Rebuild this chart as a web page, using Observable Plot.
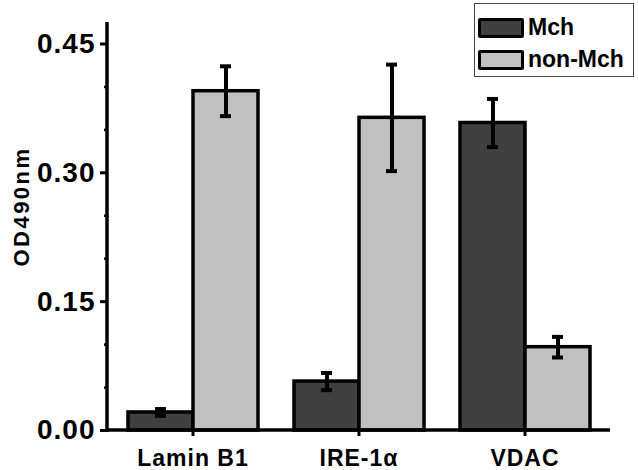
<!DOCTYPE html>
<html><head><meta charset="utf-8">
<script src="https://cdn.jsdelivr.net/npm/d3@7"></script>
<script src="https://cdn.jsdelivr.net/npm/@observablehq/plot@0.6"></script>
<style>
body{margin:0;background:#fff;}
#wrap{position:relative;width:638px;height:470px;font-family:"Liberation Sans",Arial,sans-serif;}
#legend{position:absolute;left:474px;top:3px;width:160px;height:74px;border:1px solid #444;box-sizing:border-box;background:#fff;}
.item{position:absolute;left:3px;display:flex;align-items:center;font-weight:bold;font-size:23px;line-height:1;color:#000;}
.sw{width:40px;height:14px;border:3px solid #000;margin-right:4px;border-radius:2px;}
</style></head><body>
<div id="wrap"><div id="chart"></div><div id="legend"></div></div>
<script>
const categories = ["Lamin B1", "IRE-1α", "VDAC"];
const series = ["Mch", "non-Mch"];
const mchValues = [0.021, 0.057, 0.358];
const mchErrors = [0.004, 0.010, 0.028];
const nonMchValues = [0.395, 0.364, 0.097];
const nonMchErrors = [0.029, 0.062, 0.012];
const seriesColors = ["#404040", "#c0c0c0"];
const yMajorTicks = [0, 0.15, 0.30, 0.45];
const yMinorTicks = [0.05, 0.10, 0.20, 0.25, 0.35, 0.40];
const yLabel = "OD490nm";

const data = categories.flatMap((c, i) => [
  {category: c, series: series[0], value: mchValues[i], err: mchErrors[i]},
  {category: c, series: series[1], value: nonMchValues[i], err: nonMchErrors[i]}
]);

const chart = Plot.plot({
  width: 638, height: 470,
  marginLeft: 107, marginRight: 28, marginTop: 22, marginBottom: 40,
  style: {fontFamily: "Liberation Sans, Arial, sans-serif", background: "white", color: "black"},
  fx: {domain: categories, paddingInner: 0.21, paddingOuter: 0.114, axis: null, label: null},
  x: {domain: series, padding: 0, axis: null},
  y: {domain: [0, 0.475], axis: null},
  color: {domain: series, range: seriesColors},
  marks: [
    Plot.barY(data, {fx: "category", x: "series", y: "value", fill: "series", stroke: "black", strokeWidth: 3.5}),
    Plot.ruleX(data, {fx: "category", x: "series", y1: d => d.value - d.err, y2: d => d.value + d.err, stroke: "black", strokeWidth: 4}),
    Plot.tickY(data, {fx: "category", x: "series", y: d => d.value + d.err, stroke: "black", strokeWidth: 4, insetLeft: 27, insetRight: 27}),
    Plot.tickY(data, {fx: "category", x: "series", y: d => d.value - d.err, stroke: "black", strokeWidth: 4, insetLeft: 27, insetRight: 27}),
    Plot.axisY({ticks: yMajorTicks, tickFormat: d3.format(".2f"), tickSize: 7, tickPadding: 5, strokeWidth: 3, fontSize: 28, fontWeight: "bold", label: null}),
    Plot.axisY({ticks: yMinorTicks, tickFormat: () => "", tickSize: 3, strokeWidth: 2.5, label: null}),
    Plot.axisY({ticks: [], label: yLabel, labelAnchor: "center", labelOffset: 94, labelArrow: "none", fontSize: 22, fontWeight: "bold"}),
    Plot.axisFx({anchor: "bottom", tickSize: 6, tickPadding: 13, strokeWidth: 3, fontSize: 23, fontWeight: "bold", label: null})
  ]
});

document.getElementById("chart").appendChild(chart);

const svg = d3.select(chart);
const fxS = chart.scale("fx"), yS = chart.scale("y");
const xa = Math.min(...fxS.range), xb = Math.max(...fxS.range);
const yBase = yS.apply(0), yTop = Math.min(...yS.range);

// move the y axis from the first facet's edge to the frame's left edge
const shift = xa - fxS.apply(categories[0]);
svg.selectAll("g[aria-label]").filter(function() {
  return this.getAttribute("aria-label").startsWith("y-axis");
}).each(function() {
  const t = this.getAttribute("transform") || "";
  this.setAttribute("transform", `translate(${shift},0) ${t}`);
});

// axis lines spanning the whole frame, from the library's scales
svg.append("line").attr("x1", xa).attr("x2", xb).attr("y1", yBase).attr("y2", yBase)
  .attr("stroke", "black").attr("stroke-width", 3.5);
svg.append("line").attr("x1", xa).attr("x2", xa).attr("y1", yTop).attr("y2", yBase + 1.75)
  .attr("stroke", "black").attr("stroke-width", 3.5);

svg.selectAll('g[aria-label="fx-axis tick label"] text').style("letter-spacing", "1px");
svg.selectAll('g[aria-label="y-axis tick label"] text').style("letter-spacing", "1px");
svg.selectAll('g[aria-label="y-axis label"]').each(function() {
  const t = this.getAttribute("transform") || "";
  this.setAttribute("transform", `translate(0,-20) ${t}`);
});
svg.selectAll('g[aria-label="y-axis label"] text').style("letter-spacing", "2.5px");

// legend
const legend = d3.select("#legend");
series.forEach((s, i) => {
  const item = legend.append("div").attr("class", "item").style("top", (i === 0 ? 12 : 44) + "px");
  item.append("div").attr("class", "sw").style("background", seriesColors[i]);
  item.append("span").text(s);
});
</script>
</body></html>
